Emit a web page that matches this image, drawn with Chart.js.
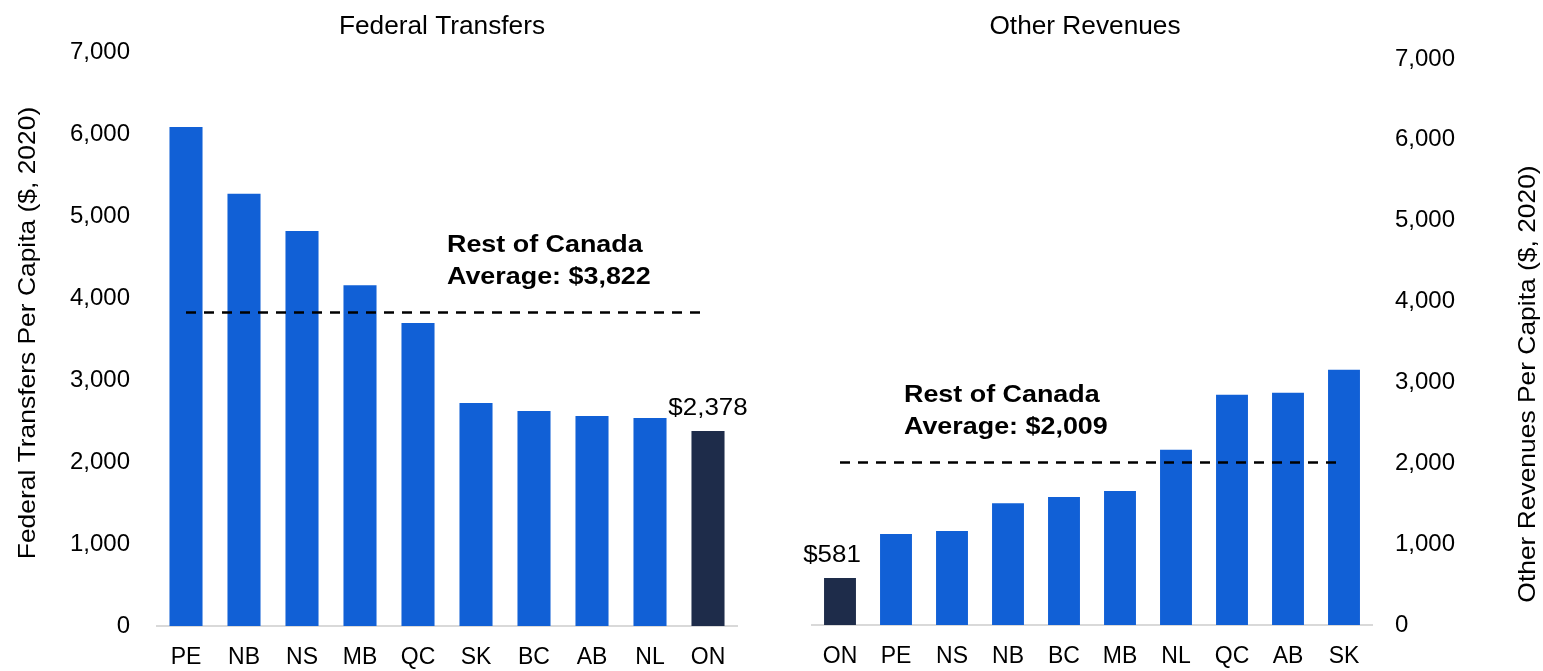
<!DOCTYPE html>
<html>
<head>
<meta charset="utf-8">
<script src="https://cdn.jsdelivr.net/npm/chart.js@4.4.1/dist/chart.umd.min.js"></script>
<style>
    html, body { margin: 0; padding: 0; background: #fff; }
    #wrap { position: relative; width: 1543px; height: 671px; overflow: hidden; }
    #leftChart { position: absolute; left: 0; top: 0; }
    #rightChart { position: absolute; left: 780px; top: 0; }
</style>
</head>
<body>
<div id="wrap">
    <canvas id="leftChart" width="760" height="671"></canvas>
    <canvas id="rightChart" width="763" height="671"></canvas>
</div>
<script>
// Federal transfers per capita ($, 2020)
const fedLabels = ['PE', 'NB', 'NS', 'MB', 'QC', 'SK', 'BC', 'AB', 'NL', 'ON'];
const fedValues = [6085, 5272, 4817, 4155, 3695, 2720, 2622, 2561, 2537, 2378];
const fedAverage = 3822;

// Other revenues per capita ($, 2020)
const otherLabels = ['ON', 'PE', 'NS', 'NB', 'BC', 'MB', 'NL', 'QC', 'AB', 'SK'];
const otherValues = [581, 1126, 1163, 1506, 1584, 1658, 2166, 2847, 2871, 3156];
const otherAverage = 2009;

const yTicks = [0, 1000, 2000, 3000, 4000, 5000, 6000, 7000];

const BLUE = '#1160d6';
const NAVY = '#1e2c4a';
const FONT = "'Liberation Sans', Arial, sans-serif";

function money(v) {
    return '$' + v.toLocaleString('en-US');
}

// the source font runs a bit wider than Liberation Sans, so stretch text sideways
function wideText(ctx, text, x, y, sx, rot) {
    ctx.save();
    ctx.translate(x, y);
    if (rot) ctx.rotate(rot);
    ctx.scale(sx, 1);
    ctx.fillText(text, 0, 0);
    ctx.restore();
}

// draws titles, the average note and the ON value label
function makeTextPlugin(cfg) {
    return {
        id: 'texts_' + cfg.key,
        afterDatasetsDraw(chart) {
            const ctx = chart.ctx;
            const area = chart.chartArea;
            const y = chart.scales.y;
            ctx.save();
            ctx.fillStyle = '#000';
            ctx.textBaseline = 'alphabetic';

            // panel title
            ctx.font = '25px ' + FONT;
            ctx.textAlign = 'center';
            wideText(ctx, cfg.title, cfg.titleX, 34, 1.05);

            // axis title, reading upward
            ctx.font = '24px ' + FONT;
            ctx.textBaseline = 'middle';
            wideText(ctx, cfg.axisTitle, cfg.axisX, cfg.axisY, 1.1, -Math.PI / 2);
            ctx.textBaseline = 'alphabetic';

            // average note
            const avgY = y.getPixelForValue(cfg.average);
            ctx.font = 'bold 24px ' + FONT;
            ctx.textAlign = 'left';
            wideText(ctx, 'Rest of Canada', area.left + cfg.noteDx, avgY - 61, 1.12);
            wideText(ctx, 'Average: ' + money(cfg.average), area.left + cfg.noteDx, avgY - 29, 1.12);

            // ON value label
            const idx = chart.data.labels.indexOf('ON');
            const bar = chart.getDatasetMeta(0).data[idx];
            ctx.font = '24px ' + FONT;
            ctx.textAlign = 'center';
            wideText(ctx, money(chart.data.datasets[0].data[idx]), bar.x + cfg.labelDx, bar.y - 16, 1.08);

            ctx.restore();
        }
    };
}

function makeChart(canvasId, labels, values, average, side, plugin) {
    const colors = labels.map(l => l === 'ON' ? NAVY : BLUE);
    const avgLine = labels.map(() => average);

    return new Chart(document.getElementById(canvasId), {
        type: 'bar',
        data: {
            labels: labels,
            datasets: [{
                type: 'bar',
                data: values,
                backgroundColor: colors,
                borderWidth: 0,
                categoryPercentage: 1,
                barPercentage: 0.57,
                order: 2
            }, {
                type: 'line',
                data: avgLine,
                borderColor: '#000',
                borderWidth: 2.5,
                borderDash: [10, 8],
                pointRadius: 0,
                fill: false,
                order: 1
            }]
        },
        options: {
            responsive: false,
            animation: false,
            events: [],
            layout: {
                padding: side === 'left'
                    ? { top: 52, right: 23, left: 0, bottom: 0 }
                    : { top: 59, right: 0, left: 32, bottom: 0 }
            },
            plugins: {
                legend: { display: false },
                tooltip: { enabled: false },
                title: { display: false }
            },
            scales: {
                x: {
                    grid: { display: false, drawTicks: false },
                    border: { display: true, color: '#d9d9d9', width: 2 },
                    ticks: {
                        color: '#000',
                        font: { family: FONT, size: 23 },
                        padding: 18,
                        maxRotation: 0,
                        autoSkip: false
                    },
                    afterFit(scale) { scale.height = side === 'left' ? 45 : 46; }
                },
                y: {
                    position: side,
                    min: 0,
                    max: 7000,
                    afterBuildTicks(scale) { scale.ticks = yTicks.map(v => ({ value: v })); },
                    grid: { display: false, drawTicks: false },
                    border: { display: false },
                    ticks: {
                        color: '#000',
                        font: { family: FONT, size: 24 },
                        padding: side === 'left' ? 27 : 23,
                        callback: v => v.toLocaleString('en-US')
                    },
                    afterFit(scale) { scale.width = side === 'left' ? 157 : 171; }
                }
            }
        },
        plugins: [plugin]
    });
}

makeChart('leftChart', fedLabels, fedValues, fedAverage, 'left', makeTextPlugin({
    key: 'fed',
    title: 'Federal Transfers',
    titleX: 442,
    axisTitle: 'Federal Transfers Per Capita ($, 2020)',
    axisX: 28,
    axisY: 333,
    average: fedAverage,
    noteDx: 290,
    labelDx: 0
}));

makeChart('rightChart', otherLabels, otherValues, otherAverage, 'right', makeTextPlugin({
    key: 'other',
    title: 'Other Revenues',
    titleX: 1085 - 780,
    axisTitle: 'Other Revenues Per Capita ($, 2020)',
    axisX: 1528 - 780,
    axisY: 384,
    average: otherAverage,
    noteDx: 92,
    labelDx: -8
}));
</script>
</body>
</html>
